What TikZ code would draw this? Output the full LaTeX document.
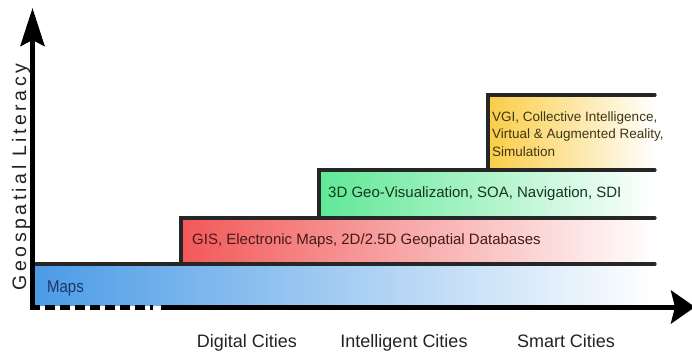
\documentclass[tikz,border=0pt]{standalone}
\usepackage{fontspec}
\setmainfont{Liberation Sans}
\newfontfamily\narrowfont[FakeStretch=0.88]{Liberation Sans}
\newfontfamily\trackfont[LetterSpace=18]{Liberation Sans}
\usetikzlibrary{arrows.meta}

\definecolor{mapblue}{RGB}{75,155,230}
\definecolor{gisred}{RGB}{242,88,88}
\definecolor{geogreen}{RGB}{95,232,150}
\definecolor{vgiyellow}{RGB}{250,205,70}
\definecolor{mapink}{RGB}{29,53,101}
\definecolor{gisink}{RGB}{70,25,25}
\definecolor{geoink}{RGB}{21,54,31}
\definecolor{vgiink}{RGB}{61,53,20}
\definecolor{axisink}{RGB}{34,34,34}

\begin{document}
\begin{tikzpicture}[x=1pt, y=-1pt,
  edge/.style={line width=3.2pt, black!85, line cap=round},
  axis/.style={line width=5pt, black},
  layer/.style={font=\fontsize{15}{18}\selectfont, anchor=base west, inner sep=0pt},
  city/.style={font=\fontsize{18}{22}\selectfont, text=axisink, anchor=base, inner sep=0pt}]
  \useasboundingbox (0,0) rectangle (692,353);

  %% Layers (colour fading to white on the right)
  \shade[left color=mapblue, right color=white] (33,264) rectangle (655,305);
  \shade[left color=gisred, right color=white] (181,218) rectangle (655,264);
  \shade[left color=geogreen, right color=white] (319,170) rectangle (655,218);
  \shade[left color=vgiyellow, right color=white] (488,95) rectangle (655,170);

  %% Step outlines, open on the right
  \draw[edge] (33,264) -- (655,264);
  \draw[edge] (181,264) -- (181,218) -- (655,218);
  \draw[edge] (319,218) -- (319,170) -- (655,170);
  \draw[edge] (488,170) -- (488,95) -- (655,95);

  %% Layer texts
  \node[layer, font=\narrowfont\fontsize{17}{20}\selectfont, text=mapink] (maps) at (47,292) {Maps};
  \node[layer, text=gisink] (gis) at (192,244)
    {GIS, Electronic Maps, 2D/2.5D Geopatial Databases};
  \node[layer, text=geoink] (geo) at (328,197)
    {3D Geo-Visualization, SOA, Navigation, SDI};
  % base of a three-line node is its last line
  \node[layer, font=\fontsize{13.5}{17.2}\selectfont, text=vgiink, align=left] (vgi) at (492,156)
    {VGI, Collective Intelligence,\\Virtual \& Augmented Reality,\\Simulation};

  %% Axes
  \coordinate (origin) at (32.5,307);
  \coordinate (ytip) at (32.5,8);
  \coordinate (xtip) at (695,307);
  \draw[axis, -{Stealth[length=38pt, width=24pt, inset=6pt]}] (32.5,309.5) -- (ytip);
  \draw[axis, dash pattern=on 9.5pt off 5.5pt] (30,307) -- (153,307);
  \draw[axis, -{Stealth[length=24pt, width=33pt, inset=4pt]}] (161,307) -- (xtip);

  %% Axis labels
  \node[rotate=90, anchor=base, inner sep=0pt, text=axisink,
        font=\trackfont\fontsize{19.5}{22}\selectfont] (literacy) at (26,177) {Geospatial Literacy};
  \node[city] (digital) at (247,347) {Digital Cities};
  \node[city] (intelligent) at (404,347) {Intelligent Cities};
  \node[city] (smart) at (566,347) {Smart Cities};
\end{tikzpicture}
\end{document}
